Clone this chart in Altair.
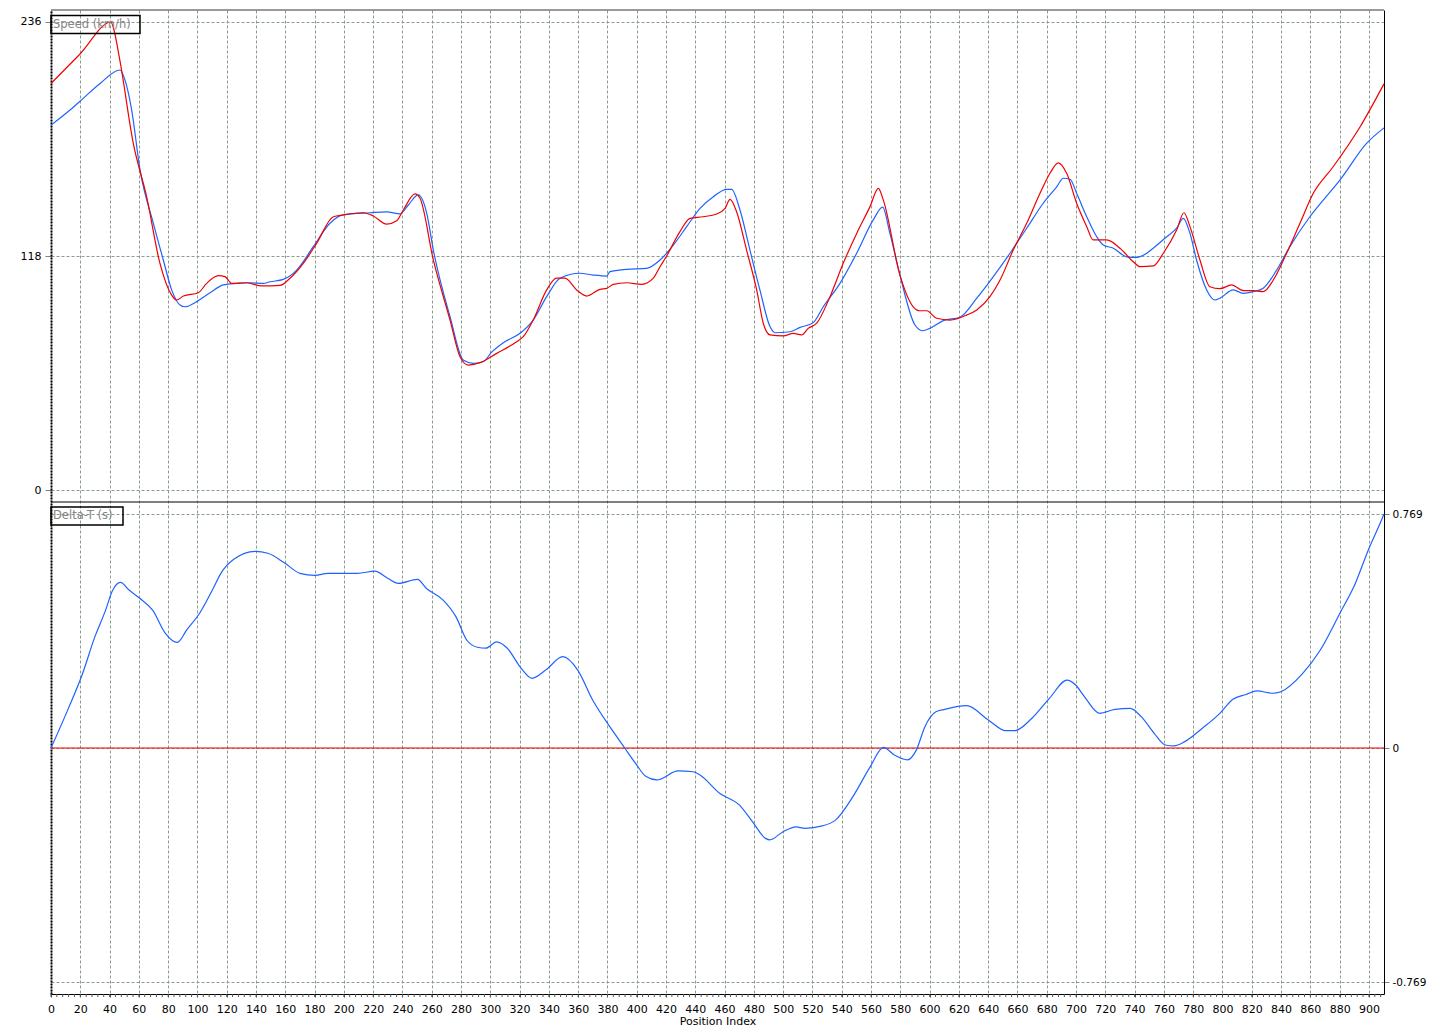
import altair as alt
import pandas as pd

# ---------------- data ----------------
x_title = "Position Index"
panel_labels = ["Speed (km/h)", "Delta-T (s)"]
x_ticks = list(range(0, 901, 20))
minor_ticks = list(range(0, 911, 4))
speed_ticks = [0, 118, 236]
delta_ticks = [-0.769, 0, 0.769]

ref_speed_x = [0, 20, 41, 42.4, 47, 56.2, 65.3, 74.4, 82.4, 85.8, 90.4, 100.6, 106.3, 114.3, 118.8,
               123.4, 133.6, 143.9, 156.4, 163.2, 172.3, 181.4, 192.8, 199.6, 213.3, 220.1, 229.2,
               236.1, 240.6, 248.6, 252, 261.1, 272.5, 279.3, 285, 293, 304.4, 318, 322.5, 329.3,
               338.5, 345.3, 351, 359, 365.8, 374.9, 379.5, 384, 393.1, 403.4, 411.3, 415.9, 420.4,
               429.5, 436.4, 445.4, 454.6, 460.3, 463.7, 468.2, 475, 481.9, 486.4, 491, 500.1, 506.9,
               512.6, 517.1, 522.9, 532, 541, 550.2, 559.3, 565, 568.4, 579.7, 588.8, 593.4, 598,
               604.8, 613.9, 625.3, 632.2, 641.2, 648.1, 657.1, 666.3, 675.4, 682.2, 687.9, 693.6,
               700.4, 707.3, 711.7, 720.9, 730, 739.1, 743.7, 752.7, 759.6, 768.7, 773.7, 777.8,
               784.6, 791.4, 798.2, 806.2, 814.2, 821, 827.8, 834.7, 843.8, 852.9, 862, 875.6, 894,
               910.3]
ref_speed = [205, 220, 236, 233.6, 216.8, 174.8, 147.9, 114.3, 98.3, 95.8, 97.8, 99.5, 104.2, 108.1,
             107.6, 104.2, 104.5, 102.9, 103.2, 106.8, 114.3, 124.4, 137.8, 138.7, 139.8, 138.2,
             134.1, 135.8, 141.2, 149.3, 147.1, 116.0, 85.7, 67.2, 63.0, 64.2, 68.9, 74.8, 77.3,
             85.7, 100.9, 106.8, 106.8, 100.9, 97.8, 101.2, 101.7, 103.7, 104.5, 103.7, 106.8,
             112.6, 118.0, 130.3, 137, 137.8, 139.2, 142.0, 146.6, 140.3, 121, 100.9, 84.1, 78.2,
             77.7, 79.0, 78.2, 81.5, 84.1, 97.5, 114.3, 129.4, 142.9, 152.1, 146.2, 108.5, 92.4,
             90.4, 90.4, 86.6, 85.7, 88.2, 90.8, 97.5, 105.9, 121, 134.5, 149.6, 159.7, 165, 159.7,
             144.6, 132.8, 126.1, 126.1, 121.9, 115.1, 112.6, 113, 119.4, 131.1, 139.8, 132.8, 116,
             102.5, 101.5, 103.4, 100.5, 100.5, 100, 105.9, 119.4, 134.5, 149.6, 163, 183.2, 204.8]

cmp_speed_x = [0, 13, 22, 33.5, 47.1, 50.5, 55.1, 60.8, 69.9, 76.7, 82.4, 88.1, 91.5, 99.5, 108.6,
               117.7, 126.8, 135.9, 145, 149.5, 158.6, 167.8, 179.1, 190.5, 199.6, 217.8, 229.2,
               238.3, 244, 250.8, 256.6, 261.1, 272.5, 281.5, 288.4, 295.2, 300.9, 308.9, 320.3,
               329.3, 338.5, 347.6, 361.2, 370.3, 379.5, 381.7, 393.1, 406.8, 415.9, 425, 434.1,
               443.2, 452.3, 461.4, 464.8, 470.5, 477.3, 484.1, 491, 494.4, 504.6, 511.5, 520.5,
               527.4, 538.8, 550.2, 561.5, 567.9, 572.9, 579.7, 590, 595.3, 600.2, 609.3, 620.7,
               632.2, 643.5, 654.9, 666.3, 677.6, 686.8, 691.3, 695.9, 700.4, 707.3, 714.1, 718.6,
               725.5, 734.6, 741.4, 748.3, 752.7, 761.9, 768.7, 773.2, 777.8, 782.3, 789.2, 794.9,
               798.2, 807.3, 814.2, 821, 827.8, 837, 846, 859.7, 868.8, 880.2, 898.4, 910.3]
cmp_speed = [184, 191.6, 197.5, 205, 211.8, 206.8, 191.6, 161.4, 134.5, 116, 100.9, 93.3, 92.4, 95,
             99.5, 103.4, 104.2, 104.5, 104.2, 105, 106.2, 110.9, 122.7, 134.5, 138.7, 139.8, 140.3,
             139.2, 143.7, 148.8, 139.5, 121, 87.4, 65.6, 63.9, 64.7, 69.5, 74.3, 79.0, 85.7, 97.5,
             106.8, 109.3, 108.4, 107.9, 110.1, 111.3, 111.8, 116, 123.5, 132.8, 142, 147.9, 151.6,
             151.6, 141.2, 121, 100.9, 82.4, 79.3, 79.8, 82, 84.4, 92.4, 104.2, 119.4, 136.2, 142.6,
             129.4, 108.5, 83.2, 80.3, 81.5, 85.4, 87.1, 96.7, 107.6, 119.4, 132, 144.6, 152.9,
             157.2, 156.7, 149.6, 137.8, 127.7, 123.5, 121.9, 117.6, 117.3, 119.4, 121.9, 127.7,
             132, 137, 129.4, 116, 100.9, 95.8, 96.7, 100.9, 99.2, 100, 101.7, 110.9, 122.7, 137.8,
             146.2, 156.3, 174.8, 182.6]

ref_delta_x = [0, 910.3]
ref_delta = [0, 0]

cmp_delta_x = [0, 12.4, 21.2, 30, 37.3, 41.7, 47.5, 53.3, 60.6, 69.4, 78.1, 86.3, 92.7, 101.5, 110.2,
               116, 124.8, 139.4, 148.1, 159.8, 170, 180.3, 189, 209.4, 221.1, 229.9, 237.2, 250.3,
               256.2, 267.8, 276.6, 283.9, 291.2, 297, 304.3, 311.6, 320.3, 328.5, 337.8, 349.5,
               359.7, 369.9, 381.6, 391.8, 399.1, 406.4, 413.7, 428.3, 438.5, 443.2, 456.6, 470, 479,
               487.9, 490.9, 499.9, 508.8, 514.8, 526.7, 535.7, 547.6, 559.5, 568.5, 575.9, 584.9,
               590.9, 596.8, 604.3, 610.3, 625.2, 640.1, 652, 658, 669.9, 681.8, 693.8, 699.7, 705.7,
               716.1, 726.6, 737, 744.5, 753.4, 760.9, 766.9, 774.3, 786.3, 798.2, 807.1, 816.1,
               823.5, 834, 839.9, 854.8, 866.8, 880.2, 890.7, 899.6, 908.6, 910.3]
cmp_delta = [0, 0.136, 0.240, 0.366, 0.453, 0.514, 0.544, 0.519, 0.492, 0.453, 0.377, 0.347, 0.388,
             0.443, 0.519, 0.574, 0.620, 0.646, 0.640, 0.607, 0.574, 0.567, 0.574, 0.574, 0.581,
             0.558, 0.541, 0.554, 0.525, 0.486, 0.431, 0.355, 0.331, 0.328, 0.349, 0.328, 0.267,
             0.229, 0.256, 0.300, 0.256, 0.158, 0.070, 0.0, -0.050, -0.094, -0.105, -0.075, -0.078,
             -0.089, -0.149, -0.187, -0.242, -0.297, -0.302, -0.275, -0.259, -0.264, -0.256, -0.237,
             -0.160, -0.061, 0.002, -0.023, -0.039, -0.007, 0.070, 0.119, 0.127, 0.139, 0.092,
             0.057, 0.057, 0.098, 0.163, 0.223, 0.207, 0.169, 0.114, 0.127, 0.130, 0.103, 0.048,
             0.010, 0.007, 0.021, 0.065, 0.114, 0.160, 0.176, 0.188, 0.180, 0.185, 0.245, 0.322,
             0.443, 0.541, 0.651, 0.749, 0.769]

# ---------------- layout / style ----------------
W, H = 1333, 984
X_DOMAIN = [0, 910.3]
SPEED_DOMAIN = [-254.15, 242.05]
DELTA_DOMAIN = [-0.8084, 2.4253]
RED = "#f00000"
BLUE = "#1f63ff"
GRID = "#8c9c8c"
FONT = "DejaVu Sans"

speed_df = pd.concat([
    pd.DataFrame({"x": cmp_speed_x, "v": cmp_speed, "lap": "cmp"}),
    pd.DataFrame({"x": ref_speed_x, "v": ref_speed, "lap": "ref"}),
], ignore_index=True)
cmp_delta_df = pd.DataFrame({"x": cmp_delta_x, "v": cmp_delta, "lap": "cmp"})
ref_delta_df = pd.DataFrame({"x": ref_delta_x, "v": ref_delta, "lap": "ref"})
minor_df = pd.DataFrame({"x": minor_ticks})
one = pd.DataFrame({"a": [0]})

x_enc = alt.X(
    "x:Q",
    scale=alt.Scale(domain=X_DOMAIN, nice=False, zero=False),
    axis=alt.Axis(values=x_ticks, format="d", title=x_title, grid=True, gridColor=GRID,
                  gridDash=[3, 2], tickSize=3, tickColor="#555555", labelPadding=6,
                  domainColor="black", titlePadding=1, titleFontWeight="normal",
                  titleFontSize=11, labelFontSize=11, labelColor="black", titleColor="black",
                  labelFlush=False, labelOverlap=False),
)
color_enc = alt.Color("lap:N", scale=alt.Scale(domain=["ref", "cmp"], range=[RED, BLUE]),
                      legend=None)

speed = alt.Chart(speed_df).mark_line(strokeWidth=1.2, interpolate="monotone").encode(
    x=x_enc,
    y=alt.Y("v:Q", scale=alt.Scale(domain=SPEED_DOMAIN, nice=False, zero=False),
            axis=alt.Axis(values=speed_ticks, orient="left", title=None, grid=True,
                          gridColor=GRID, gridDash=[3, 2], domain=True, domainColor="black",
                          domainWidth=2, domainDash=[2, 1], tickSize=6, tickColor="#808080",
                          labelPadding=4, labelFontSize=11, labelColor="black")),
    color=color_enc,
)

delta_y = alt.Y("v:Q", scale=alt.Scale(domain=DELTA_DOMAIN, nice=False, zero=False),
                axis=alt.Axis(values=delta_ticks, orient="right", title=None, grid=True,
                              gridColor=GRID, gridDash=[3, 2], domain=True, domainColor="black",
                              tickSize=5, tickColor="#808080", labelPadding=3, labelFontSize=10.5,
                              labelColor="black",
                              labelExpr="replace(format(datum.value, '.3~f'), '\u2212', '-')"))

delta_ref = alt.Chart(ref_delta_df).mark_line(strokeWidth=1.2, color=RED).encode(
    x=x_enc, y=delta_y)
delta_cmp = alt.Chart(cmp_delta_df).mark_line(strokeWidth=1.2, color=BLUE,
                                              interpolate="monotone").encode(
    x=x_enc, y=delta_y)
delta = alt.layer(delta_ref, delta_cmp)

minor = alt.Chart(minor_df).mark_rule(color="#555555").encode(
    x=x_enc, y=alt.value(H), y2=alt.value(H + 3))

top_border = alt.Chart(one).mark_rule(color="#303a30").encode(
    x=alt.value(0), x2=alt.value(W), y=alt.value(0))
separator = alt.Chart(one).mark_rule(color="black").encode(
    x=alt.value(0), x2=alt.value(W), y=alt.value(492))

box1 = alt.Chart(one).mark_rect(fillOpacity=0, stroke="black", strokeWidth=1.5).encode(
    x=alt.value(0), x2=alt.value(89), y=alt.value(5.5), y2=alt.value(23.5))
text1 = alt.Chart(one).mark_text(text=panel_labels[0], align="left", baseline="middle",
                                 color="#858585", font=FONT, fontSize=11.5).encode(
    x=alt.value(2), y=alt.value(14.5))
box2 = alt.Chart(one).mark_rect(fillOpacity=0, stroke="black", strokeWidth=1.5).encode(
    x=alt.value(0), x2=alt.value(72), y=alt.value(497), y2=alt.value(515))
text2 = alt.Chart(one).mark_text(text=panel_labels[1], align="left", baseline="middle",
                                 color="#858585", font=FONT, fontSize=11.5).encode(
    x=alt.value(2), y=alt.value(506))

chart = alt.layer(
    speed, delta, minor, top_border, separator, box1, text1, box2, text2
).resolve_scale(
    y="independent"
).properties(
    width=W, height=H,
    autosize=alt.AutoSizeParams(type="none"),
    padding={"left": 43, "top": 2, "right": 43, "bottom": 35},
    background="white",
).configure_view(
    stroke=None
).configure_axis(
    labelFont=FONT, titleFont=FONT
)

chart.save("out.html", embed_options={"renderer": "svg", "actions": False})
